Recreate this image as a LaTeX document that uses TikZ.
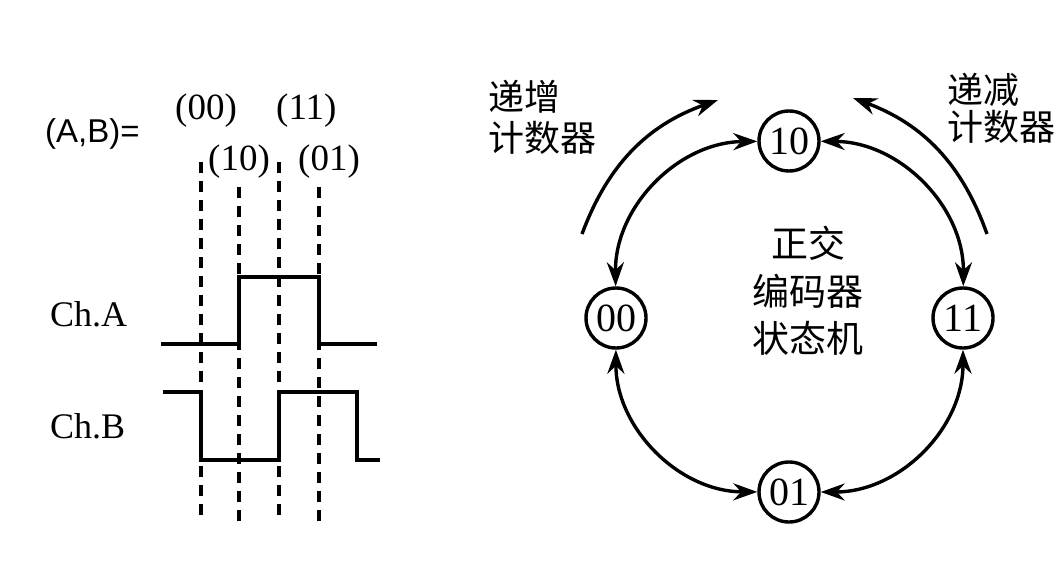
\documentclass[tikz,border=0pt]{standalone}
\usepackage{fontspec}
\setmainfont{Liberation Serif}
\newfontfamily\cjk{Noto Sans CJK SC}
\newfontfamily\arialfont{Liberation Sans}
\usetikzlibrary{arrows.meta}
\begin{document}
\begin{tikzpicture}[x=1pt,y=1pt,
  state/.style={circle,draw,line width=3.4pt,minimum size=60pt,inner sep=0pt,font=\fontsize{40}{40}\selectfont},
  trans/.style={line width=3.4pt,{Stealth[length=24pt,width=17pt]}-{Stealth[length=24pt,width=17pt]}},
  outer/.style={line width=3.4pt,-{Stealth[length=24pt,width=17pt]}},
  wave/.style={line width=3.8pt,line join=miter},
  guide/.style={line width=3.8pt,dash pattern=on 11pt off 8pt},
  lbl/.style={anchor=base west,inner sep=0pt,font=\fontsize{37}{37}\selectfont},
  cjklbl/.style={inner sep=0pt,align=left},
]
\useasboundingbox (0,0) rectangle (1064,-564);

% ---- left: labels ----
\node[lbl,font=\arialfont\fontsize{33}{33}\selectfont] (ab) at (45,-143) {(A,B)=};
\node[lbl] (s00) at (175,-120) {(00)};
\node[lbl] (s11) at (276,-120) {(11)};
\node[lbl] (s10) at (208,-171) {(10)};
\node[lbl] (s01) at (298,-171) {(01)};
\node[lbl,font=\fontsize{36}{36}\selectfont] (cha) at (50,-326) {Ch.A};
\node[lbl,font=\fontsize{36}{36}\selectfont] (chb) at (50,-438) {Ch.B};

% ---- guide lines ----
\coordinate (g1t) at (201,-162); \coordinate (g1b) at (201,-522);
\coordinate (g2t) at (239,-187); \coordinate (g2b) at (239,-522);
\coordinate (g3t) at (279,-162); \coordinate (g3b) at (279,-522);
\coordinate (g4t) at (319,-187); \coordinate (g4b) at (319,-522);
\draw[guide] (g1t) -- (g1b);
\draw[guide] (g2t) -- (g2b);
\draw[guide] (g3t) -- (g3b);
\draw[guide] (g4t) -- (g4b);

% ---- waveforms ----
\draw[wave] (161,-344) -- (239,-344) -- (239,-277) -- (319,-277) -- (319,-344) -- (377,-344);
\draw[wave] (163,-392) -- (201,-392) -- (201,-460) -- (279,-460) -- (279,-392) -- (357,-392) -- (357,-460) -- (380,-460);

% ---- state machine ----
\node[state] (n10) at (789,-141) {10};
\node[state] (n00) at (616,-318) {00};
\node[state] (n11) at (963,-318) {11};
\node[state] (n01) at (789,-492) {01};

\draw[trans] (n10) to[bend right=45] (n00);
\draw[trans] (n00) to[bend right=45] (n01);
\draw[trans] (n01) to[bend right=45] (n11);
\draw[trans] (n11) to[bend right=45] (n10);

\coordinate (la) at (582,-234);
\coordinate (lb) at (718,-100);
\coordinate (ra) at (987,-234);
\coordinate (rb) at (853,-98);
\draw[outer] (la) to[bend left=25] (lb);
\draw[outer] (ra) to[bend right=25] (rb);

\node[cjklbl,font=\cjk\fontsize{36}{41}\selectfont] (inc) at (542,-117) {递增\\计数器};
\node[cjklbl,font=\cjk\fontsize{36}{37}\selectfont] (dec) at (1001,-108) {递减\\计数器};
\node[inner sep=0pt,align=center,font=\cjk\fontsize{37}{47.5}\selectfont] (ctr) at (808,-291) {正交\\编码器\\状态机};
\end{tikzpicture}
\end{document}
